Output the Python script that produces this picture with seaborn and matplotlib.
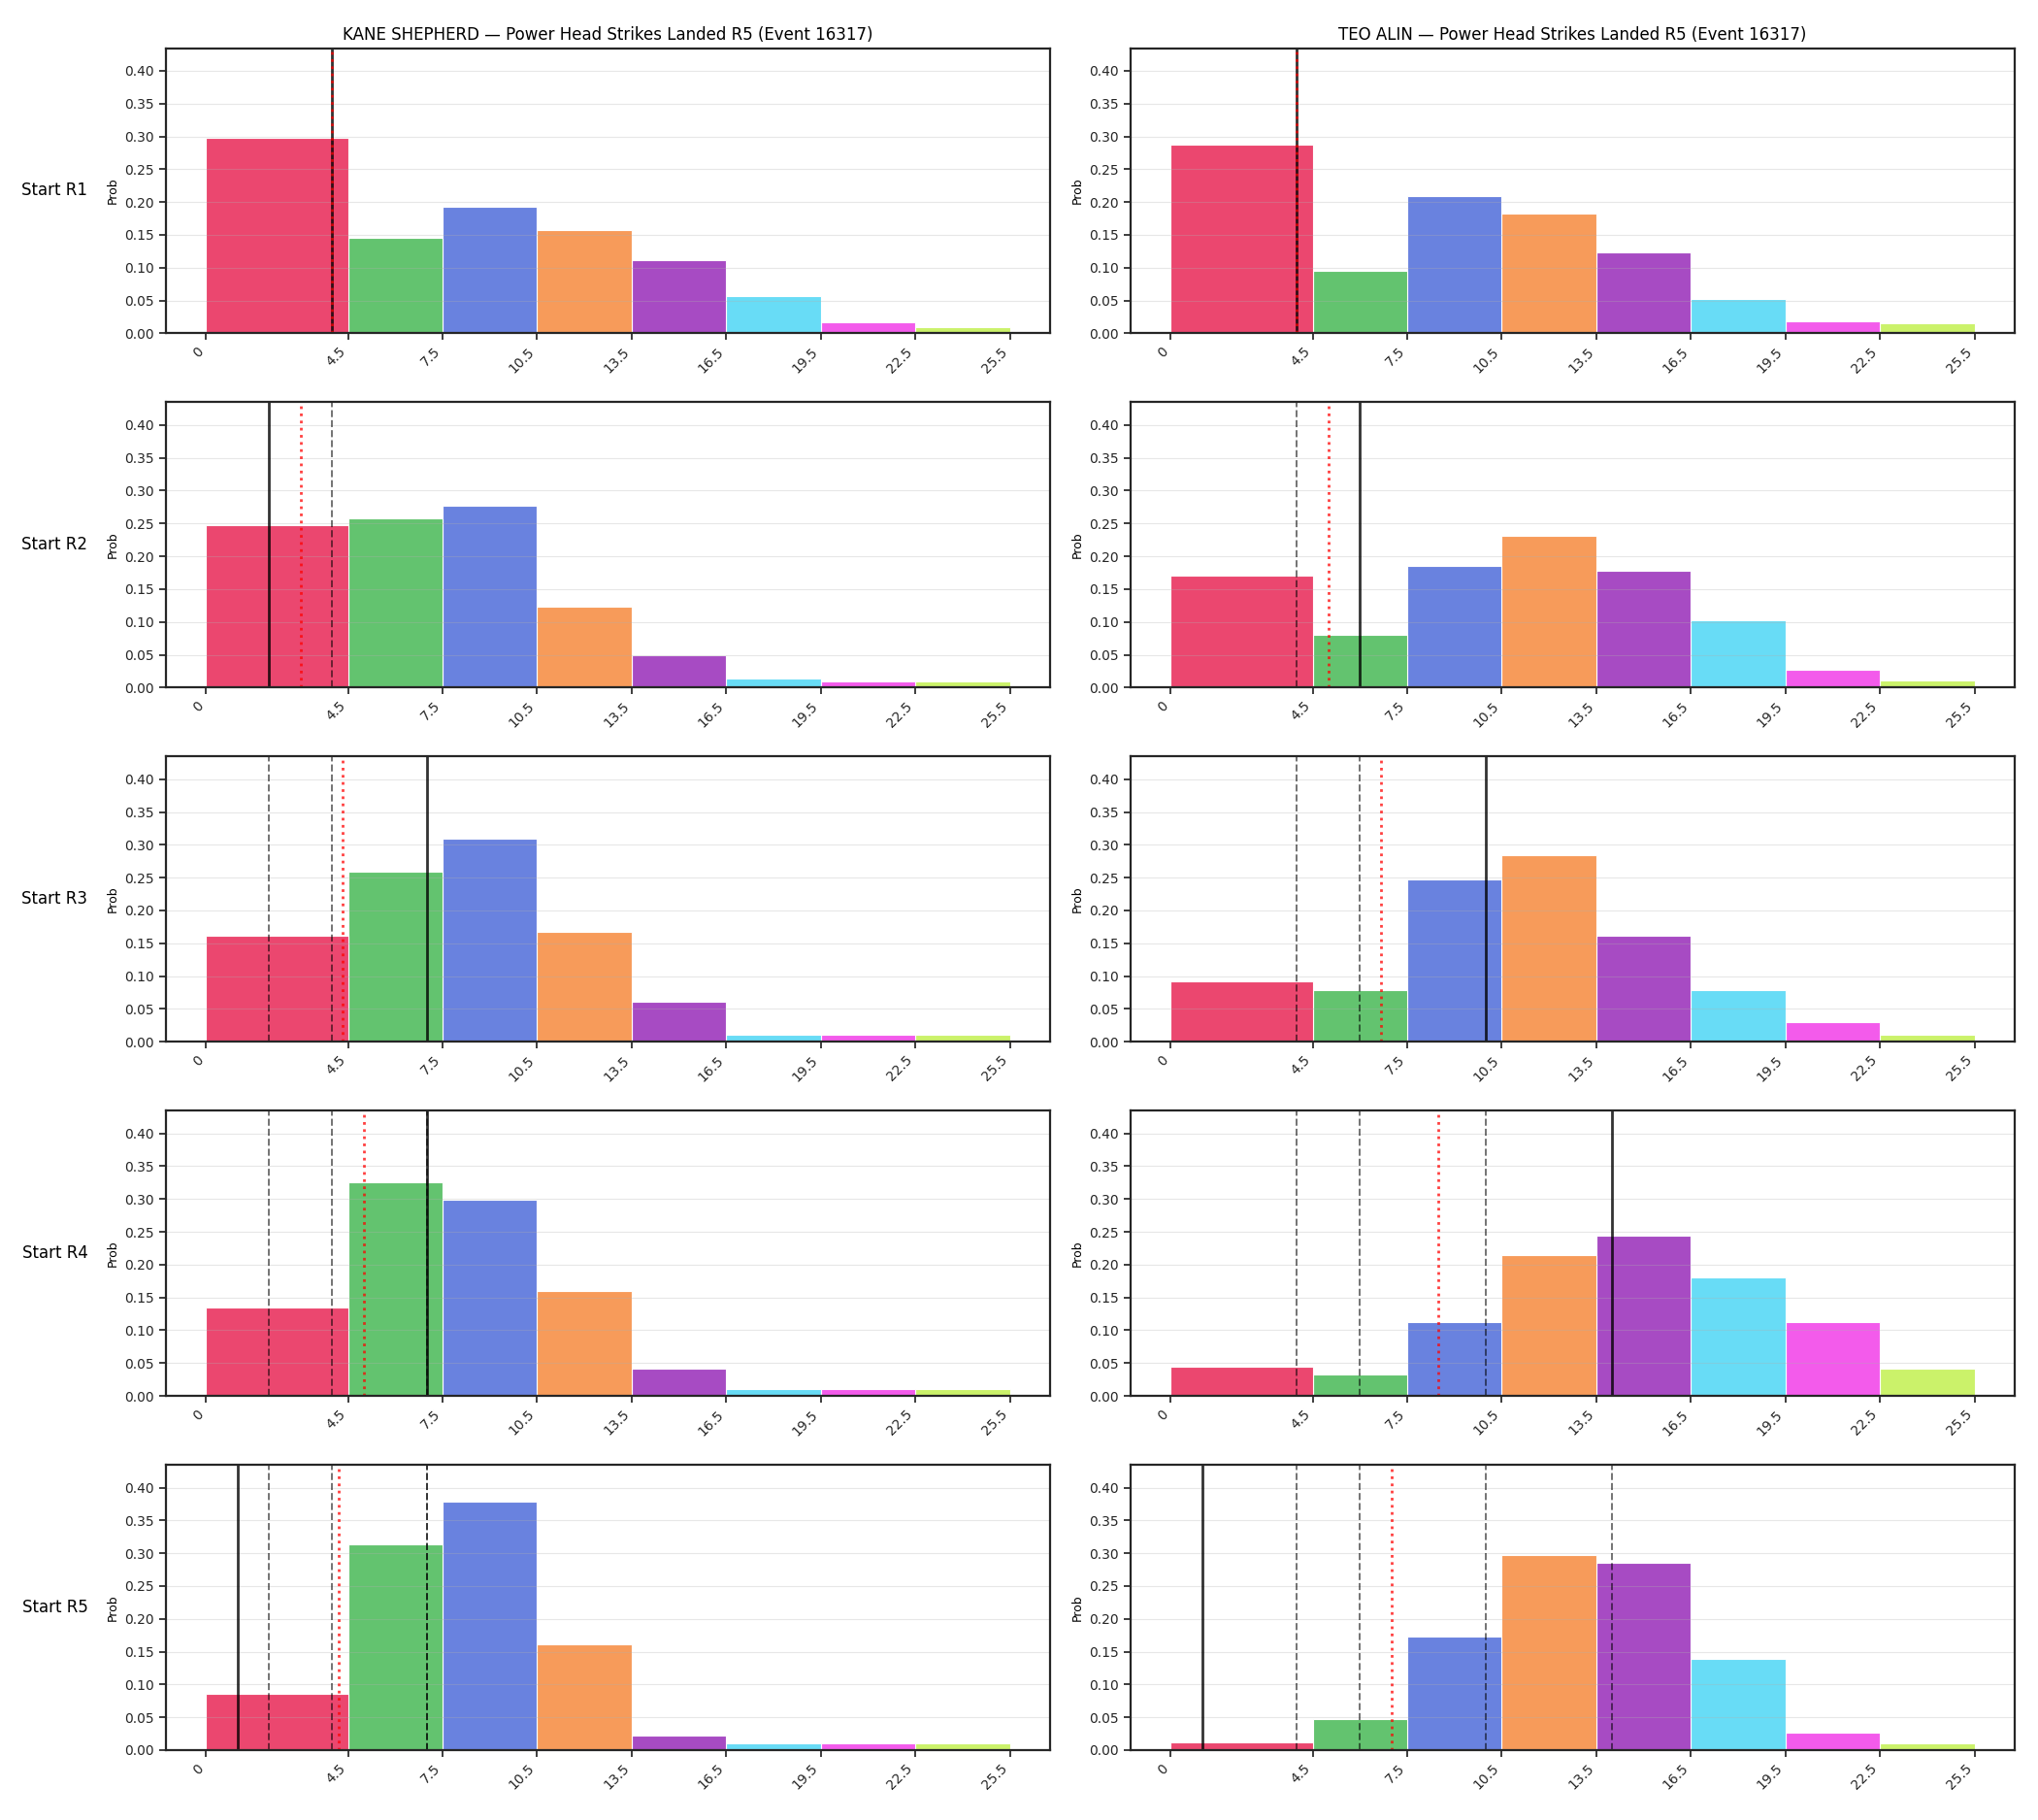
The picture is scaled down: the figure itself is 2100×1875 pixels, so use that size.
import numpy as np
import pandas as pd
import matplotlib
matplotlib.use("Agg")
import matplotlib.pyplot as plt
import seaborn as sns

# bins of strikes landed (first bin is wider)
edges = [0, 4.5, 7.5, 10.5, 13.5, 16.5, 19.5, 22.5, 25.5]
tick_labels = ["0", "4.5", "7.5", "10.5", "13.5", "16.5", "19.5", "22.5", "25.5"]
bin_names = ["0-4", "5-7", "8-10", "11-13", "14-16", "17-19", "20-22", "23-25"]
bin_colors = ["#e6194b", "#3cb44b", "#4363d8", "#f58231",
              "#911eb4", "#42d4f4", "#f032e6", "#bfef45"]

fighters = ["KANE SHEPHERD", "TEO ALIN"]
rounds = ["R1", "R2", "R3", "R4", "R5"]

# probability per bin, one list per starting round
kane_probs = [
    [0.298, 0.145, 0.193, 0.157, 0.111, 0.057, 0.017, 0.010],
    [0.248, 0.258, 0.277, 0.123, 0.049, 0.014, 0.010, 0.010],
    [0.162, 0.259, 0.310, 0.168, 0.061, 0.010, 0.010, 0.010],
    [0.135, 0.326, 0.299, 0.160, 0.041, 0.010, 0.010, 0.010],
    [0.086, 0.314, 0.378, 0.161, 0.022, 0.010, 0.010, 0.010],
]
teo_probs = [
    [0.287, 0.096, 0.209, 0.183, 0.124, 0.052, 0.019, 0.015],
    [0.171, 0.081, 0.186, 0.231, 0.178, 0.102, 0.027, 0.011],
    [0.092, 0.079, 0.247, 0.285, 0.162, 0.078, 0.030, 0.010],
    [0.044, 0.032, 0.112, 0.215, 0.244, 0.181, 0.112, 0.041],
    [0.012, 0.048, 0.173, 0.297, 0.285, 0.139, 0.026, 0.010],
]

# landed per round (solid line = this round, dashed = earlier rounds, red = running mean)
kane_landed = [4, 2, 7, 7, 1]
teo_landed = [4, 6, 10, 14, 1]

all_probs = [kane_probs, teo_probs]
all_landed = [kane_landed, teo_landed]

centers = [(a + b) / 2 for a, b in zip(edges[:-1], edges[1:])]
ymax = max(max(max(r) for r in p) for p in all_probs) * 1.15

fig, axes = plt.subplots(5, 2, figsize=(21, 18.75), dpi=100)
fig.subplots_adjust(left=0.0814, right=0.9886, top=0.9736, bottom=0.0384,
                    wspace=0.091, hspace=0.2415)

for col in range(2):
    landed = all_landed[col]
    running_mean = np.cumsum(landed) / np.arange(1, len(landed) + 1)
    for row in range(5):
        ax = axes[row, col]
        df = pd.DataFrame({"strikes": centers, "prob": all_probs[col][row], "bin": bin_names})
        sns.histplot(data=df, x="strikes", weights="prob", bins=edges, hue="bin",
                     hue_order=bin_names, palette=bin_colors, alpha=0.8,
                     edgecolor="white", linewidth=0.8, legend=False, ax=ax)

        for prev in landed[:row]:
            ax.axvline(prev, color="black", alpha=0.55, linestyle="--", linewidth=1.4)
        ax.axvline(landed[row], color="black", alpha=0.8, linewidth=2)
        ax.axvline(running_mean[row], color="red", alpha=0.75, linestyle=":", linewidth=2)

        ax.set_xlim(-1.275, 26.775)
        ax.set_ylim(0, ymax)
        ax.set_xticks(edges)
        ax.set_xticklabels(tick_labels, rotation=45, ha="right")
        ax.set_yticks(np.arange(0, 0.41, 0.05))
        ax.yaxis.set_major_formatter(matplotlib.ticker.FormatStrFormatter("%.2f"))
        ax.tick_params(labelsize=10, width=1.25, length=5, color="#262626", labelcolor="#262626")
        for sp in ax.spines.values():
            sp.set_linewidth(1.6)
            sp.set_color("#262626")
        ax.set_xlabel("")
        ax.set_ylabel("Prob", fontsize=9)
        ax.grid(axis="y", alpha=0.3)

        if row == 0:
            ax.set_title(f"{fighters[col]} — Power Head Strikes Landed R5 (Event 16317)", fontsize=12)
        if col == 0:
            ax.text(-0.0884, 0.5, f"Start {rounds[row]}", transform=ax.transAxes,
                    ha="right", va="center", fontsize=12)

fig.savefig("out.png", dpi=100)
